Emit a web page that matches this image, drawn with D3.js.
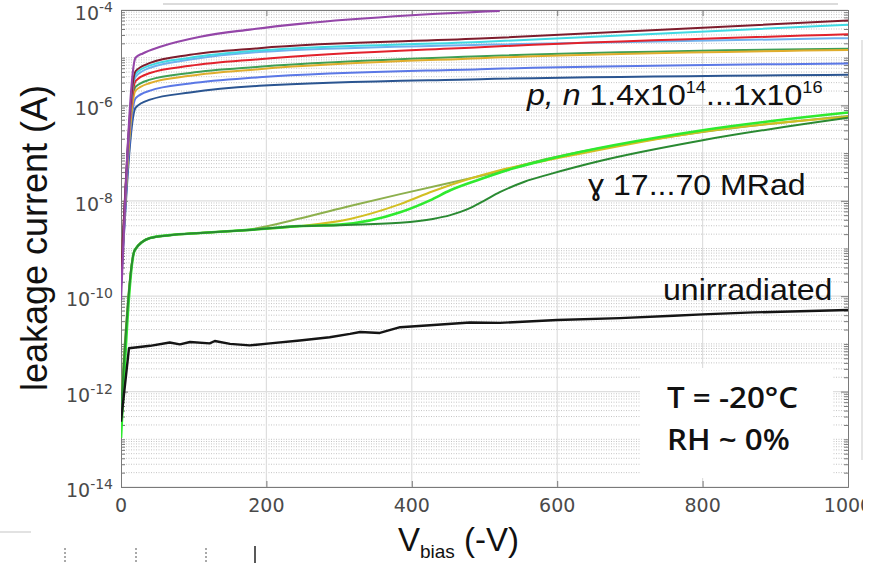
<!DOCTYPE html>
<html>
<head>
<meta charset="utf-8">
<script src="https://cdn.jsdelivr.net/npm/d3@7"></script>
<style>
body { margin:0; background:#fff; }
</style>
</head>
<body>
<script>
// bias voltage (-V) and log10 of leakage current (A)

// proton / neutron irradiated sensors, one shared voltage grid
var vHadron  = [0, 20, 40, 95, 190, 494, 1000];
var hMaroon  = [-9.60, -5.28, -5.11, -4.94, -4.80, -4.60, -4.22];
var hCyan    = [-9.70, -5.34, -5.16, -5.00, -4.85, -4.67, -4.31];
var hSky     = [-9.65, -5.40, -5.21, -5.04, -4.88, -4.73, -4.59];
var hRed     = [-9.56, -5.49, -5.32, -5.17, -5.03, -4.78, -4.51];
var hGreen   = [-9.70, -5.61, -5.46, -5.32, -5.19, -4.97, -4.81];
var hGold    = [-9.70, -5.69, -5.53, -5.38, -5.24, -5.01, -4.84];
var hBlue    = [-9.75, -5.85, -5.69, -5.54, -5.41, -5.24, -5.12];
var hNavy    = [-9.80, -6.05, -5.88, -5.73, -5.59, -5.45, -5.36];

// highest fluence, stops at ~520 V
var vPurple  = [0, 20, 30, 54, 109, 177, 246, 400, 521];
var hPurple  = [-10.08, -5.00, -4.91, -4.77, -4.56, -4.41, -4.29, -4.11, -4.02];

// gamma irradiated 17...70 MRad
var vOlive   = [0, 19, 40, 67, 109, 150, 177, 246, 315, 384, 453, 494, 590, 800, 1000];
var gOlive   = [-12.2, -9.03, -8.78, -8.72, -8.675, -8.64, -8.60, -8.37, -8.11, -7.86, -7.62, -7.48, -7.11, -6.56, -6.22];
var vYellow  = [0, 19, 40, 67, 109, 177, 246, 315, 384, 429, 473, 521, 590, 800, 1000];
var gYellow  = [-12.6, -9.03, -8.78, -8.72, -8.675, -8.61, -8.53, -8.38, -8.07, -7.80, -7.57, -7.36, -7.14, -6.55, -6.24];
var vLime    = [0, 19, 40, 67, 109, 177, 246, 301, 384, 425, 453, 494, 540, 590, 800, 1000];
var gLime    = [-12.97, -9.03, -8.78, -8.72, -8.675, -8.61, -8.53, -8.50, -8.24, -7.99, -7.78, -7.55, -7.32, -7.12, -6.52, -6.15];
var vForest  = [0, 19, 40, 67, 109, 177, 246, 301, 384, 429, 453, 476, 498, 521, 555, 590, 660, 800, 1000];
var gForest  = [-12.4, -9.03, -8.78, -8.72, -8.675, -8.61, -8.53, -8.51, -8.46, -8.38, -8.30, -8.18, -8.01, -7.82, -7.60, -7.44, -7.16, -6.73, -6.26];

// unirradiated
var vUnirr   = [0, 11, 40, 67, 81, 95, 122, 129, 150, 177, 205, 246, 287, 315, 329, 356, 384, 425, 480, 521, 600, 686, 760, 800, 870, 1000];
var uUnirr   = [-12.63, -11.09, -11.04, -10.97, -11.01, -10.96, -10.99, -10.94, -11.00, -11.03, -10.99, -10.93, -10.86, -10.79, -10.75, -10.77, -10.65, -10.61, -10.55, -10.56, -10.50, -10.46, -10.41, -10.38, -10.34, -10.29];

var xTicks = [0, 200, 400, 600, 800, 1000];
var yTicks = [-14, -12, -10, -8, -6, -4];

window.onload = function(){

    var W = 871, H = 563;
    var L = 121, R = 848, T = 10, B = 487;

    var svg = d3.select(document.body)
        .append('svg')
        .attr('width', W)
        .attr('height', H)
        .style('display', 'block');

    var x = d3.scaleLinear().domain([0, 1000]).range([L, R]);
    var y = d3.scaleLog().domain([1e-14, 1e-4]).range([B, T]);

    // grid: minor decades dotted, labelled decades solid
    var minor = [];
    for (var e = -14; e < -4; e++) {
        for (var k = 1; k <= 9; k++) {
            if (k == 1 && e % 2 == 0) continue;
            minor.push(k * Math.pow(10, e));
        }
    }
    var major = yTicks.map(function(e){ return Math.pow(10, e); });

    var grid = svg.append('g');
    grid.selectAll('line.minor')
        .data(minor)
        .enter()
        .append('line')
        .attr('x1', L).attr('x2', R)
        .attr('y1', function(d){ return y(d); })
        .attr('y2', function(d){ return y(d); })
        .attr('stroke', '#c4c4c4')
        .attr('stroke-width', 1)
        .attr('stroke-dasharray', '1,1.5');
    grid.selectAll('line.major')
        .data(major)
        .enter()
        .append('line')
        .attr('x1', L).attr('x2', R)
        .attr('y1', function(d){ return y(d); })
        .attr('y2', function(d){ return y(d); })
        .attr('stroke', '#dedede')
        .attr('stroke-width', 1.2);
    grid.selectAll('line.vx')
        .data(xTicks.slice(1, -1))
        .enter()
        .append('line')
        .attr('x1', function(d){ return x(d); })
        .attr('x2', function(d){ return x(d); })
        .attr('y1', T).attr('y2', B)
        .attr('stroke', '#dedede')
        .attr('stroke-width', 1.2);

    // white box behind T / RH note
    svg.append('rect')
        .attr('x', 640).attr('y', 368)
        .attr('width', 193).attr('height', 110)
        .attr('fill', '#fff');

    // axes, ticks pointing inwards
    var axCol = '#7a7a7a';
    function styleAxis(g){
        g.select('.domain').attr('stroke', axCol);
        g.selectAll('.tick line').attr('stroke', axCol);
        g.selectAll('.tick text').remove();
    }
    svg.append('g').attr('transform', 'translate(' + L + ',0)')
        .call(d3.axisLeft(y).tickValues(minor).tickSize(-4).tickSizeOuter(0)).call(styleAxis);
    svg.append('g').attr('transform', 'translate(' + L + ',0)')
        .call(d3.axisLeft(y).tickValues(major).tickSize(-7).tickSizeOuter(0)).call(styleAxis);
    svg.append('g').attr('transform', 'translate(' + R + ',0)')
        .call(d3.axisRight(y).tickValues(minor).tickSize(-4).tickSizeOuter(0)).call(styleAxis);
    svg.append('g').attr('transform', 'translate(' + R + ',0)')
        .call(d3.axisRight(y).tickValues(major).tickSize(-7).tickSizeOuter(0)).call(styleAxis);
    svg.append('g').attr('transform', 'translate(0,' + B + ')')
        .call(d3.axisBottom(x).tickValues(xTicks).tickSize(-6).tickSizeOuter(0)).call(styleAxis);
    svg.append('g').attr('transform', 'translate(0,' + T + ')')
        .call(d3.axisTop(x).tickValues(xTicks).tickSize(-6).tickSizeOuter(0)).call(styleAxis);

    // tick labels
    svg.selectAll('text.xl')
        .data(xTicks)
        .enter()
        .append('text')
        .attr('x', function(d){ return x(d); })
        .attr('y', 512)
        .attr('text-anchor', 'middle')
        .style('font-family', 'DejaVu Sans')
        .style('font-size', '19px')
        .style('fill', '#4a4a4a')
        .text(function(d){ return d; });

    var yl = svg.selectAll('text.yl')
        .data(yTicks)
        .enter()
        .append('text')
        .attr('x', 113)
        .attr('y', function(d){ return y(Math.pow(10, d)) + 10; })
        .attr('text-anchor', 'end')
        .style('font-family', 'DejaVu Sans')
        .style('fill', '#4a4a4a');
    yl.append('tspan').style('font-size', '19px').text('10');
    yl.append('tspan').attr('dy', -8).style('font-size', '14px')
        .text(function(d){ return '-' + Math.abs(d); });

    // curves
    var clip = svg.append('clipPath').attr('id', 'plotclip');
    clip.append('rect').attr('x', L).attr('y', T).attr('width', R - L).attr('height', B - T);

    function pts(v, lg){
        return v.map(function(d, i){ return [d, Math.pow(10, lg[i])]; });
    }
    var smooth = d3.line()
        .x(function(d){ return x(d[0]); })
        .y(function(d){ return y(d[1]); })
        .curve(d3.curveMonotoneX);
    var straight = d3.line()
        .x(function(d){ return x(d[0]); })
        .y(function(d){ return y(d[1]); });

    var curves = [
        {p: pts(vHadron, hNavy),   c: '#2b5591', w: 2},
        {p: pts(vHadron, hBlue),   c: '#5b78e6', w: 2},
        {p: pts(vHadron, hGreen),  c: '#3f9f55', w: 2},
        {p: pts(vHadron, hGold),   c: '#e0ad2c', w: 2},
        {p: pts(vHadron, hSky),    c: '#6fb2ee', w: 2},
        {p: pts(vHadron, hRed),    c: '#e2222c', w: 2},
        {p: pts(vHadron, hCyan),   c: '#3fd9e3', w: 2},
        {p: pts(vHadron, hMaroon), c: '#7d1c2c', w: 2},
        {p: pts(vPurple, hPurple), c: '#9446a8', w: 2.2},
        {p: pts(vOlive, gOlive),   c: '#8db04d', w: 2},
        {p: pts(vYellow, gYellow), c: '#d2bf22', w: 2},
        {p: pts(vLime, gLime),     c: '#2fea2f', w: 2.6},
        {p: pts(vForest, gForest), c: '#2a8a32', w: 2}
    ];

    var plot = svg.append('g').attr('clip-path', 'url(#plotclip)');
    plot.selectAll('path.c')
        .data(curves)
        .enter()
        .append('path')
        .attr('d', function(d){ return smooth(d.p); })
        .attr('fill', 'none')
        .attr('stroke', function(d){ return d.c; })
        .attr('stroke-width', function(d){ return d.w; })
        .attr('stroke-linejoin', 'round');

    plot.append('path')
        .attr('d', straight(pts(vUnirr, uUnirr)))
        .attr('fill', 'none')
        .attr('stroke', '#151515')
        .attr('stroke-width', 2.4)
        .attr('stroke-linejoin', 'round');

    // annotations
    var ann = 'Liberation Sans';
    function label(tx, ty, sx){
        return svg.append('g')
            .attr('transform', 'translate(' + tx + ',' + ty + ') scale(' + sx + ',1)')
            .append('text')
            .style('font-family', ann)
            .style('font-size', '30px')
            .style('fill', '#111');
    }
    var pn = label(527, 105, 1.07);
    pn.append('tspan').style('font-style', 'italic').text('p, n');
    pn.append('tspan').text(' 1.4x10');
    pn.append('tspan').attr('dy', -12).style('font-size', '17px').text('14');
    pn.append('tspan').attr('dy', 12).text('...1x10');
    pn.append('tspan').attr('dy', -12).style('font-size', '17px').text('16');

    label(588, 195, 1.07).text('\u0263 17...70 MRad');
    label(663, 300, 1.07).text('unirradiated');

    function note(ty, s){
        svg.append('g')
            .attr('transform', 'translate(667,' + ty + ') scale(1.12,1)')
            .append('text')
            .style('font-family', 'Open Sans')
            .style('font-weight', 600)
            .style('font-size', '28px')
            .style('fill', '#111')
            .text(s);
    }
    note(408, 'T = -20\u00b0C');
    note(450, 'RH ~ 0%');

    // axis titles
    svg.append('text')
        .attr('transform', 'translate(47,238) rotate(-90)')
        .attr('text-anchor', 'middle')
        .style('font-family', ann)
        .style('font-size', '36px')
        .style('fill', '#111')
        .text('leakage current (A)');

    var xt = svg.append('text')
        .attr('x', 398).attr('y', 551)
        .style('font-family', ann)
        .style('fill', '#111');
    xt.append('tspan').style('font-size', '33px').text('V');
    xt.append('tspan').attr('dy', 7).style('font-size', '19px').text('bias');
    xt.append('tspan').attr('dy', -7).style('font-size', '33px').text(' (-V)');

    // leftovers of the cropped screenshot
    svg.append('line').attr('x1', 163).attr('x2', 838).attr('y1', 4).attr('y2', 4)
        .attr('stroke', '#cfcfcf').attr('stroke-width', 1.5);
    svg.append('line').attr('x1', 862).attr('x2', 862).attr('y1', 40).attr('y2', 460)
        .attr('stroke', '#dcdcdc').attr('stroke-width', 1.5);
    svg.append('rect').attr('x', 863).attr('y', 0).attr('width', 8).attr('height', H).attr('fill', '#fff');
    svg.append('line').attr('x1', 0).attr('x2', 31).attr('y1', 532).attr('y2', 532)
        .attr('stroke', '#cfcfcf').attr('stroke-width', 1.2);
    svg.selectAll('line.dash')
        .data([65, 136, 206])
        .enter()
        .append('line')
        .attr('x1', function(d){ return d; })
        .attr('x2', function(d){ return d; })
        .attr('y1', 548).attr('y2', 562)
        .attr('stroke', '#555')
        .attr('stroke-dasharray', '2,2');
    svg.append('line').attr('x1', 255).attr('x2', 255).attr('y1', 546).attr('y2', 563)
        .attr('stroke', '#222').attr('stroke-width', 1.5);
}
</script>
</body>
</html>
